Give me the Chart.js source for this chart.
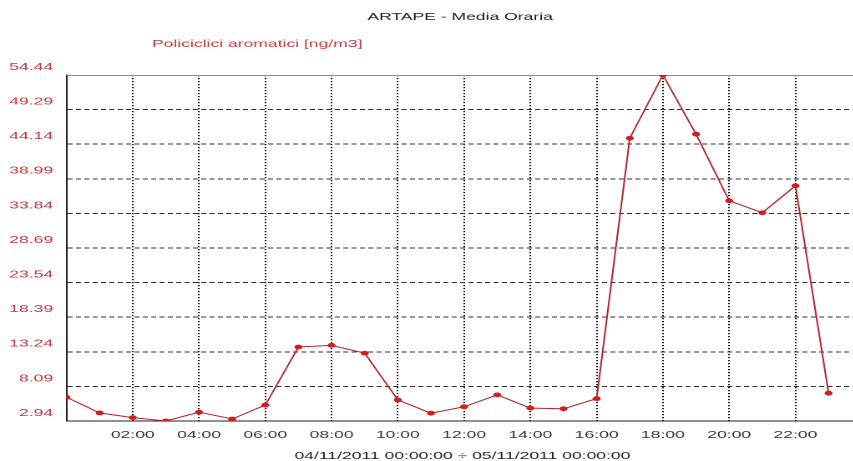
<!DOCTYPE html>
<html>
<head>
<meta charset="utf-8">
<script src="https://cdn.jsdelivr.net/npm/chart.js@4.4.1/dist/chart.umd.min.js"></script>
<style>
  html, body { margin: 0; padding: 0; background: #fff; overflow: hidden; }
  /* the reference is stretched sideways, so the canvas is too */
  #chart { display: block; transform: scaleX(1.67); transform-origin: 0 0; }
</style>
</head>
<body>
<canvas id="chart" width="520" height="461"></canvas>
<script>
const chartTitle = "ARTAPE - Media Oraria"
const seriesLabel = "Policiclici aromatici [ng/m3]"
const rangeLabel = "04/11/2011 00:00:00 \u00f7 05/11/2011 00:00:00"

const hours = [0, 1, 2, 3, 4, 5, 6, 7, 8, 9, 10, 11, 12, 13, 14, 15, 16, 17, 18, 19, 20, 21, 22, 23]
const values = [6.47, 4.15, 3.44, 2.94, 4.25, 3.24, 5.31, 13.95, 14.2, 13.04, 6.07, 4.1,
  5.06, 6.83, 4.86, 4.76, 6.27, 45.03, 54.44, 45.63, 35.72, 33.94, 37.95, 7.08]

const yTicks = [2.94, 8.09, 13.24, 18.39, 23.54, 28.69, 33.84, 38.99, 44.14, 49.29, 54.44]
const xTicks = [2, 4, 6, 8, 10, 12, 14, 16, 18, 20, 22]

const FONT = { family: '"Liberation Sans", Arial, sans-serif', size: 10.5 }
const yMin = yTicks[0]
const yMax = yTicks[yTicks.length - 1]

// titles, caption and the grey top frame line
const framePlugin = {
  id: "frame",
  beforeDatasetsDraw(chart) {
    const { ctx, chartArea } = chart
    ctx.save()
    ctx.strokeStyle = "#8a8a8a"
    ctx.lineWidth = 1
    ctx.beginPath()
    ctx.moveTo(chartArea.left, chartArea.top + 0.5)
    ctx.lineTo(chartArea.right, chartArea.top + 0.5)
    ctx.stroke()
    ctx.restore()
  },
  afterDraw(chart) {
    const { ctx, chartArea } = chart
    ctx.save()
    ctx.font = FONT.size + "px " + FONT.family
    ctx.textBaseline = "middle"
    ctx.fillStyle = "#1e1e1e"
    ctx.textAlign = "center"
    ctx.fillText(chartTitle, 275.5, 17)
    ctx.fillText(rangeLabel, (chartArea.left + chartArea.right) / 2 - 1, 456)
    ctx.fillStyle = "#c4393e"
    ctx.textAlign = "left"
    ctx.fillText(seriesLabel, 91, 44)
    ctx.restore()
  },
}

new Chart(document.querySelector("#chart"), {
  type: "line",
  data: {
    datasets: [
      {
        data: hours.map((h, i) => ({ x: h, y: values[i] })),
        borderColor: "#b3282d",
        borderWidth: 1,
        pointRadius: 2.4,
        pointBackgroundColor: "#d41c1c",
        pointBorderWidth: 0,
        tension: 0,
        fill: false,
      },
    ],
  },
  options: {
    responsive: false,
    animation: false,
    devicePixelRatio: 2,
    layout: { padding: { top: 75, right: 2.3, left: 0, bottom: 0 } },
    plugins: {
      legend: { display: false },
      tooltip: { enabled: false },
    },
    scales: {
      x: {
        type: "linear",
        min: 0,
        max: 24,
        afterBuildTicks: (scale) => {
          scale.ticks = xTicks.map((v) => ({ value: v }))
        },
        afterFit: (scale) => {
          scale.height = 40
        },
        ticks: {
          color: "#333",
          font: FONT,
          padding: 8,
          maxRotation: 0,
          autoSkip: false,
          callback: (v) => String(v).padStart(2, "0") + ":00",
        },
        grid: { color: "#111", lineWidth: 1, drawTicks: false },
        border: { display: true, color: "#222", width: 1, dash: [1.2, 1.8] },
      },
      y: {
        min: yMin,
        max: yMax,
        afterBuildTicks: (scale) => {
          scale.ticks = yTicks.map((v) => ({ value: v }))
        },
        afterFit: (scale) => {
          scale.width = 39.8
        },
        ticks: {
          color: "#c4393e",
          font: FONT,
          padding: 8,
          labelOffset: -8,
          callback: (v) => v.toFixed(2),
        },
        grid: {
          color: (c) => (c.tick && (c.tick.value === yMax || c.tick.value === yMin) ? "transparent" : "#333"),
          lineWidth: 1,
          drawTicks: false,
        },
        border: { display: true, color: "#222", width: 1, dash: [3, 2] },
      },
    },
  },
  plugins: [framePlugin],
})
</script>
</body>
</html>
